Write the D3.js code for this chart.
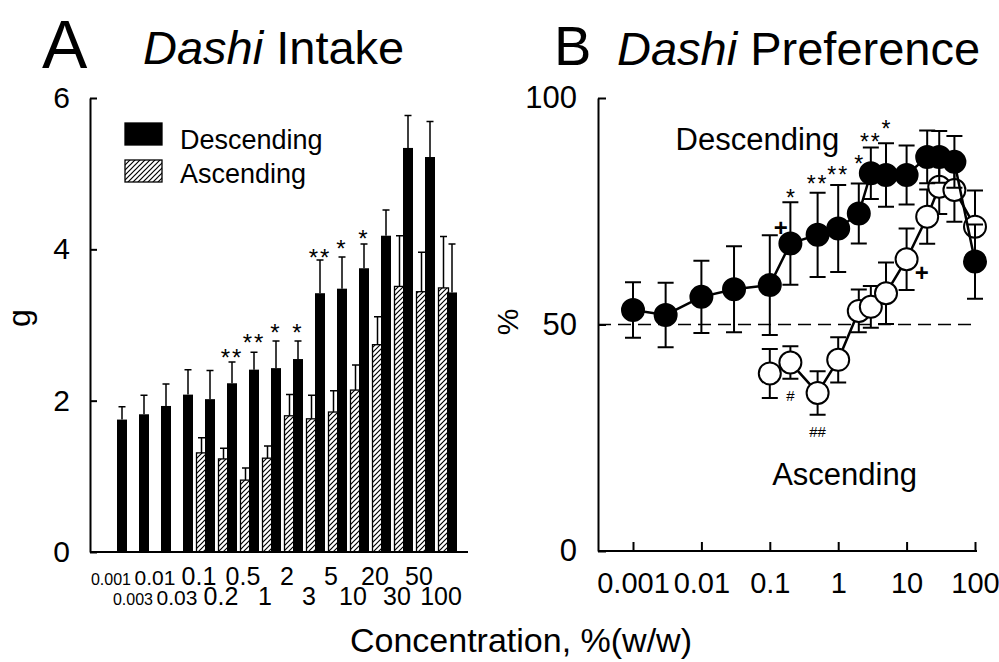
<!DOCTYPE html>
<html>
<head>
<meta charset="utf-8">
<script src="https://cdn.jsdelivr.net/npm/d3@7"></script>
<style>
  body { margin: 0; background: #fff; }
  svg { display: block; font-family: "Liberation Sans", Arial, sans-serif; }
</style>
</head>
<body>
<svg id="chart" width="999" height="662"></svg>
<script>
// ---- panel A: intake (g) ----
const concA = ["0.001", "0.003", "0.01", "0.03", "0.1", "0.2", "0.5", "1", "2", "3", "5", "10", "20", "30", "50", "100"];
const descMeanA = [1.75, 1.82, 1.93, 2.08, 2.02, 2.23, 2.41, 2.43, 2.55, 3.42, 3.48, 3.75, 4.18, 5.34, 5.22, 3.43];
const descSemA = [0.17, 0.25, 0.29, 0.33, 0.38, 0.28, 0.23, 0.36, 0.24, 0.44, 0.42, 0.32, 0.34, 0.43, 0.47, 0.64];
const ascConcA = ["0.1", "0.2", "0.5", "1", "2", "3", "5", "10", "20", "30", "50", "100"];
const ascMeanA = [1.31, 1.23, 0.95, 1.24, 1.80, 1.76, 1.85, 2.14, 2.74, 3.51, 3.44, 3.49];
const ascSemA = [0.20, 0.14, 0.16, 0.16, 0.28, 0.31, 0.28, 0.33, 0.37, 0.67, 0.52, 0.68];
const yTicksA = [0, 2, 4, 6];
const sigConcA = ["0.2", "0.5", "1", "2", "3", "5", "10"];
const sigTextA = ["**", "**", "*", "*", "**", "*", "*"];
const sigLevelA = [2.64, 2.84, 2.97, 2.97, 3.96, 4.08, 4.22];

// ---- panel B: preference (%) ----
const concB = [0.001, 0.003, 0.01, 0.03, 0.1, 0.2, 0.5, 1, 2, 3, 5, 10, 20, 30, 50, 100];
const descPrefB = [53.2, 52.1, 56.1, 57.8, 58.7, 67.9, 69.8, 71.2, 74.5, 83.4, 83.0, 83.0, 87.0, 87.0, 85.9, 63.9];
const descSemB = [6.1, 7.1, 8.0, 9.5, 11.0, 9.1, 9.3, 9.6, 6.6, 5.7, 7.0, 6.5, 5.8, 5.7, 5.7, 8.2];
const ascConcB = [0.1, 0.2, 0.5, 1, 2, 3, 5, 10, 20, 30, 50, 100];
const ascPrefB = [39.2, 41.6, 34.9, 42.2, 53.0, 53.9, 56.9, 64.4, 73.8, 80.4, 79.7, 71.6];
const ascSemB = [5.4, 3.6, 4.8, 5.0, 4.7, 4.6, 6.8, 6.8, 6.0, 6.0, 7.0, 8.0];
const xTicksB = ["0.001", "0.01", "0.1", "1", "10", "100"];
const yTicksB = [0, 50, 100];
// significance marks: concentration, text, level in %
const sigConcB = [0.2, 0.5, 1, 2, 3, 5, 0.145, 16.6, 0.2, 0.5];
const sigTextB = ["*", "**", "**", "*", "**", "*", "+", "+", "#", "##"];
const sigLevelB = [79.2, 82.3, 84.1, 86.5, 91.4, 94.3, 71.5, 61.6, 34.4, 26.3];

const svg = d3.select("#chart");
const defs = svg.append("defs");
const hatch = defs.append("pattern")
  .attr("id", "hatch")
  .attr("patternUnits", "userSpaceOnUse")
  .attr("width", 5)
  .attr("height", 5);
hatch.append("rect").attr("width", 5).attr("height", 5).attr("fill", "#fff");
hatch.append("path")
  .attr("d", "M-1,1 l2,-2 M0,5 l5,-5 M4,6 l2,-2")
  .attr("stroke", "#000")
  .attr("stroke-width", 1.2);

// ================= Panel A =================
const xA = d3.scaleBand().domain(concA).range([107, 459]);
const yA = d3.scaleLinear().domain([0, 6]).range([552, 98]);
const cA = c => xA(c) + xA.bandwidth() / 2;
const barW = 10;

const gA = svg.append("g");

// hatched (ascending) bars
gA.selectAll(".asc-bar")
  .data(ascConcA)
  .enter()
  .append("rect")
  .attr("x", d => cA(d) - 4.5 - barW / 2)
  .attr("y", (d, i) => yA(ascMeanA[i]))
  .attr("width", barW)
  .attr("height", (d, i) => yA(0) - yA(ascMeanA[i]))
  .attr("fill", "url(#hatch)")
  .attr("stroke", "#000")
  .attr("stroke-width", 1.3);

gA.selectAll(".asc-err")
  .data(ascConcA)
  .enter()
  .append("path")
  .attr("d", (d, i) => {
    const x = cA(d) - 4.5, y0 = yA(ascMeanA[i]), y1 = yA(ascMeanA[i] + ascSemA[i]);
    return `M${x},${y0}V${y1}M${x - 3.5},${y1}H${x + 3.5}`;
  })
  .attr("stroke", "#000")
  .attr("stroke-width", 1.5)
  .attr("fill", "none");

// black (descending) bars
gA.selectAll(".desc-bar")
  .data(concA)
  .enter()
  .append("rect")
  .attr("x", d => cA(d) + 4 - barW / 2)
  .attr("y", (d, i) => yA(descMeanA[i]))
  .attr("width", barW)
  .attr("height", (d, i) => yA(0) - yA(descMeanA[i]))
  .attr("fill", "#000");

gA.selectAll(".desc-err")
  .data(concA)
  .enter()
  .append("path")
  .attr("d", (d, i) => {
    const x = cA(d) + 4, y0 = yA(descMeanA[i]), y1 = yA(descMeanA[i] + descSemA[i]);
    return `M${x},${y0}V${y1}M${x - 3.5},${y1}H${x + 3.5}`;
  })
  .attr("stroke", "#000")
  .attr("stroke-width", 1.5)
  .attr("fill", "none");

// asterisks
gA.selectAll(".sigA")
  .data(sigConcA)
  .enter()
  .append("text")
  .attr("x", d => cA(d) + 4)
  .attr("y", (d, i) => yA(sigLevelA[i]))
  .attr("dy", "0.58em")
  .attr("text-anchor", "middle")
  .attr("font-size", 24)
  .attr("letter-spacing", 2)
  .text((d, i) => sigTextA[i]);

// y axis
const axisA = gA.append("g")
  .attr("transform", "translate(90,0)")
  .call(d3.axisLeft(yA).tickValues(yTicksA).tickFormat(d3.format("d"))
    .tickSize(-7).tickSizeOuter(0).tickPadding(20));
axisA.attr("font-family", null).attr("font-size", 30);
axisA.selectAll("path, line").attr("stroke-width", 2);

// baseline
gA.append("line")
  .attr("x1", 90).attr("x2", 468)
  .attr("y1", yA(0)).attr("y2", yA(0))
  .attr("stroke", "#000").attr("stroke-width", 2);

// x labels (two staggered rows)
gA.selectAll(".xlabA")
  .data(concA)
  .enter()
  .append("text")
  .attr("x", d => cA(d) - 7)
  .attr("y", (d, i) => i % 2 === 0 ? 585 : 605)
  .attr("text-anchor", "middle")
  .attr("font-size", d => d.length >= 5 ? 16 : d.length === 4 ? 21 : 25)
  .text(d => d);

// y label
gA.append("text")
  .attr("transform", "translate(30,318) rotate(-90)")
  .attr("text-anchor", "middle")
  .attr("font-size", 32)
  .text("g");

// legend
const legendA = gA.append("g");
const legItems = [["Descending", "#000"], ["Ascending", "url(#hatch)"]];
legItems.forEach((it, i) => {
  legendA.append("rect")
    .attr("x", 125).attr("y", 123 + i * 37)
    .attr("width", 37).attr("height", 22)
    .attr("fill", it[1])
    .attr("stroke", "#000").attr("stroke-width", 1.3);
  legendA.append("text")
    .attr("x", 180).attr("y", 149 + i * 34)
    .attr("font-size", 27)
    .text(it[0]);
});

// title A
svg.append("text").attr("x", 42).attr("y", 68).attr("font-size", 68).text("A");
const tA = svg.append("text").attr("x", 143).attr("y", 64).attr("font-size", 47);
tA.append("tspan").attr("font-style", "italic").text("Dashi");
tA.append("tspan").text(" Intake");

// ================= Panel B =================
const xB = d3.scaleLog().domain([0.001, 100]).range([633, 975]);
const yB = d3.scaleLinear().domain([0, 100]).range([551, 98]);
const gB = svg.append("g");

// dashed 50% line
gB.append("line")
  .attr("x1", 598).attr("x2", 977)
  .attr("y1", yB(50)).attr("y2", yB(50))
  .attr("stroke", "#000").attr("stroke-width", 1.6)
  .attr("stroke-dasharray", "13,7");

function errBars(g, xs, ys, es) {
  g.selectAll(null)
    .data(xs)
    .enter()
    .append("path")
    .attr("d", (d, i) => {
      const x = xB(d), y0 = yB(ys[i] - es[i]), y1 = yB(ys[i] + es[i]);
      return `M${x},${y0}V${y1}M${x - 8},${y0}H${x + 8}M${x - 8},${y1}H${x + 8}`;
    })
    .attr("stroke", "#000")
    .attr("stroke-width", 2)
    .attr("fill", "none");
}

function series(xs, ys, es, fill) {
  const g = gB.append("g");
  errBars(g, xs, ys, es);
  g.append("path")
    .datum(xs)
    .attr("d", d3.line().x(d => xB(d)).y((d, i) => yB(ys[i])))
    .attr("fill", "none")
    .attr("stroke", "#000")
    .attr("stroke-width", 2.5);
  g.selectAll("circle")
    .data(xs)
    .enter()
    .append("circle")
    .attr("cx", d => xB(d))
    .attr("cy", (d, i) => yB(ys[i]))
    .attr("r", 11)
    .attr("fill", fill)
    .attr("stroke", "#000")
    .attr("stroke-width", 2);
}

series(ascConcB, ascPrefB, ascSemB, "#fff");
series(concB, descPrefB, descSemB, "#000");

// significance marks
gB.selectAll(".sigB")
  .data(sigConcB)
  .enter()
  .append("text")
  .attr("x", d => xB(d))
  .attr("y", (d, i) => yB(sigLevelB[i]))
  .attr("dy", (d, i) => sigTextB[i].includes("*") ? "0.58em" : "0.36em")
  .attr("text-anchor", "middle")
  .attr("font-size", (d, i) => sigTextB[i].includes("#") ? 15 : sigTextB[i] === "+" ? 24 : 23)
  .attr("font-weight", (d, i) => sigTextB[i] === "+" ? "bold" : null)
  .attr("letter-spacing", (d, i) => sigTextB[i] === "**" ? 2 : null)
  .text((d, i) => sigTextB[i]);

// series labels
gB.append("text")
  .attr("x", xB(0.066)).attr("y", yB(88.5))
  .attr("text-anchor", "middle").attr("font-size", 31)
  .text("Descending");
gB.append("text")
  .attr("x", xB(1.24)).attr("y", yB(14.6))
  .attr("text-anchor", "middle").attr("font-size", 31)
  .text("Ascending");

// axes
const axisBy = gB.append("g")
  .attr("transform", "translate(598,0)")
  .call(d3.axisLeft(yB).tickValues(yTicksB).tickSize(-8).tickSizeOuter(0).tickPadding(21));
axisBy.attr("font-family", null).attr("font-size", 31);
axisBy.selectAll("path, line").attr("stroke-width", 2);

const axisBx = gB.append("g")
  .attr("transform", `translate(0,${yB(0)})`)
  .call(d3.axisBottom(xB).tickValues(xTicksB.map(Number)).tickSize(-9).tickSizeOuter(0)
    .tickPadding(21).tickFormat((d, i) => xTicksB[i]));
axisBx.attr("font-family", null).attr("font-size", 29);
axisBx.select(".domain").remove();
axisBx.selectAll("line").attr("stroke-width", 2);
gB.append("line")
  .attr("x1", 598).attr("x2", 977)
  .attr("y1", yB(0)).attr("y2", yB(0))
  .attr("stroke", "#000").attr("stroke-width", 2);

gB.append("text")
  .attr("transform", "translate(518,322) rotate(-90)")
  .attr("text-anchor", "middle")
  .attr("font-size", 30)
  .text("%");

// title B
svg.append("text").attr("x", 554).attr("y", 65).attr("font-size", 56).text("B");
const tB = svg.append("text").attr("x", 617).attr("y", 65).attr("font-size", 47);
tB.append("tspan").attr("font-style", "italic").text("Dashi");
tB.append("tspan").text(" Preference");

// shared x label
svg.append("text")
  .attr("x", 521).attr("y", 652)
  .attr("text-anchor", "middle")
  .attr("font-size", 34)
  .text("Concentration, %(w/w)");
</script>
</body>
</html>
